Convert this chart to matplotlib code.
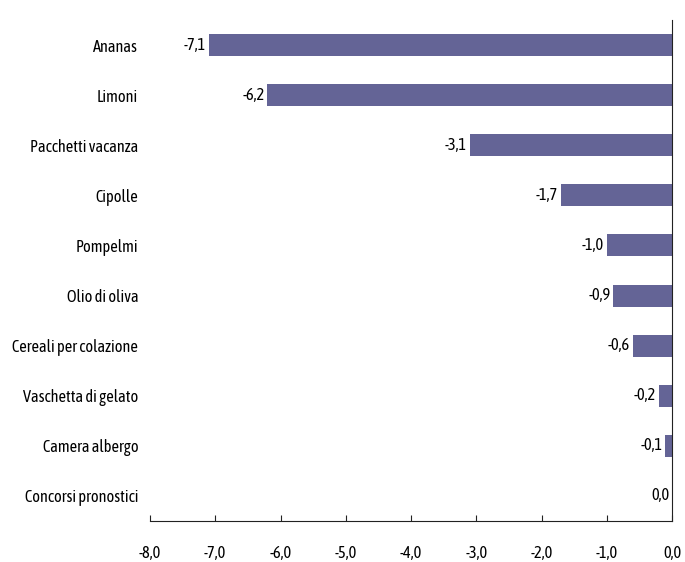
import matplotlib
matplotlib.use("Agg")
import matplotlib.pyplot as plt
from matplotlib import font_manager

categories = ["Ananas", "Limoni", "Pacchetti vacanza", "Cipolle", "Pompelmi",
              "Olio di oliva", "Cereali per colazione", "Vaschetta di gelato",
              "Camera albergo", "Concorsi pronostici"]
values = [-7.1, -6.2, -3.1, -1.7, -1.0, -0.9, -0.6, -0.2, -0.1, 0.0]
xticks = [-8, -7, -6, -5, -4, -3, -2, -1, 0]

names = {f.name for f in font_manager.fontManager.ttflist}
fam = "DejaVu Sans"
for cand in ["Asap Condensed", "Archivo Narrow", "Carlito"]:
    if cand in names:
        fam = cand
        break
plt.rcParams['font.family'] = [fam, 'DejaVu Sans']

FS = 11.8
W, H = 685, 562
fig = plt.figure(figsize=(W/100, H/100), dpi=100)
ax = fig.add_axes([150/W, (H-521)/H, (672-150)/W, (521-20)/H])

y = list(range(len(categories)))
ax.barh(y, values, height=0.44, color="#646496")
ax.set_ylim(len(categories)-0.5, -0.5)
ax.set_xlim(-8, 0)
ax.set_yticks(y)
ax.set_yticklabels(categories, fontsize=FS)
ax.tick_params(axis='y', length=0, pad=8.5)
ax.set_xticks(xticks)
ax.set_xticklabels([f"{t:.1f}".replace(".", ",") for t in xticks], fontsize=FS)
ax.tick_params(axis='x', direction='in', length=4, pad=17.5, color="#222222")

for s in ['top', 'left']:
    ax.spines[s].set_visible(False)
ax.spines['right'].set_color("#222222")
ax.spines['bottom'].set_color("#222222")

for yi, v in zip(y, values):
    ax.annotate(f"{v:.1f}".replace(".", ","), xy=(v, yi), xytext=(-2, 0),
                textcoords="offset points", ha="right", va="center", fontsize=FS)

fig.savefig("out.png", dpi=100)
